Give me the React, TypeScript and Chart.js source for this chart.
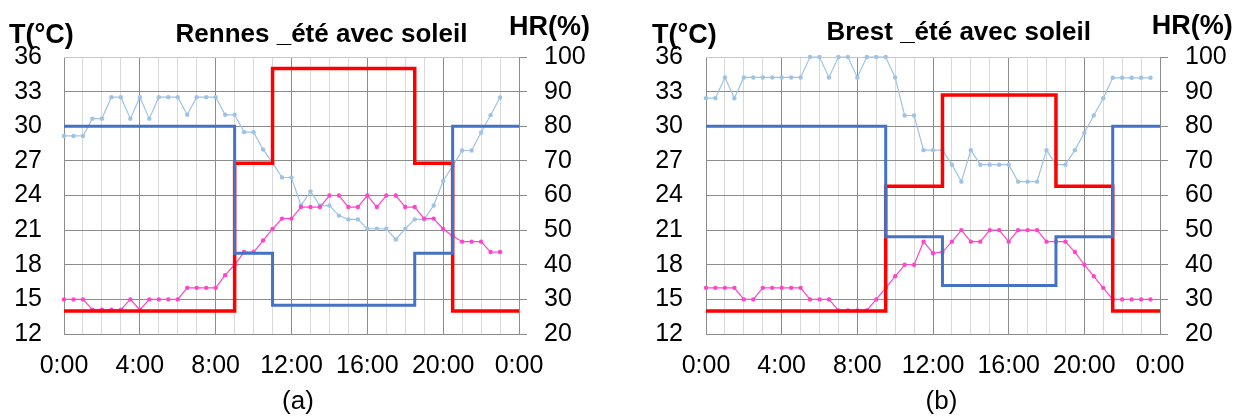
import React, { useEffect, useRef } from 'react';
import { Chart, registerables } from 'chart.js';

Chart.register(...registerables);

// ---------- DATA ----------
const xTickHours = [0, 4, 8, 12, 16, 20, 24];
const xTickLabels = ['0:00', '4:00', '8:00', '12:00', '16:00', '20:00', '0:00'];

// Rennes (a)
const timesA = [0, 0.5, 1, 1.5, 2, 2.5, 3, 3.5, 4, 4.5, 5, 5.5, 6, 6.5, 7, 7.5, 8, 8.5, 9, 9.5, 10, 10.5, 11, 11.5, 12,
  12.5, 13, 13.5, 14, 14.5, 15, 15.5, 16, 16.5, 17, 17.5, 18, 18.5, 19, 19.5, 20, 20.5, 21, 21.5, 22, 22.5, 23];
const hrMeasA = [77.2, 77.2, 77.2, 82.2, 82.2, 88.4, 88.4, 82.2, 88.4, 82.2, 88.4, 88.4, 88.4, 83.3, 88.4, 88.4, 88.4, 83.3, 83.3, 78.3, 78.3, 73.3, 69.4, 65.2, 65.2,
  57.1, 61.2, 57.1, 57.1, 54.2, 53.1, 53.1, 50.4, 50.4, 50.4, 47.3, 50.4, 53.1, 53.1, 57.1, 64.2, 68.5, 73, 73, 78.2, 83.2, 88.3];
const tMeasA = [15, 15, 15, 14.1, 14.1, 14.1, 14.1, 15, 14.1, 15, 15, 15, 15, 16, 16, 16, 16, 17.1, 18, 19.1, 19.1, 20.1, 21.1, 22, 22,
  23, 23, 23, 24, 24, 23, 23, 24, 23, 24, 24, 23, 23, 22, 22, 21.1, 20.5, 20, 20, 20, 19.1, 19.1];
const stepTimesA = [0, 9, 11, 18.5, 20.5, 24];
const tSetA = [14, 26.8, 35, 26.8, 14, 14];
const hrSetA = [80, 43.3, 28.3, 43.3, 80, 80];

// Brest (b)
const timesB = [0, 0.5, 1, 1.5, 2, 2.5, 3, 3.5, 4, 4.5, 5, 5.5, 6, 6.5, 7, 7.5, 8, 8.5, 9, 9.5, 10, 10.5, 11, 11.5, 12,
  12.5, 13, 13.5, 14, 14.5, 15, 15.5, 16, 16.5, 17, 17.5, 18, 18.5, 19, 19.5, 20, 20.5, 21, 21.5, 22, 22.5, 23, 23.5];
const hrMeasB = [88.1, 88.1, 94.1, 88.1, 94.1, 94.1, 94.1, 94.1, 94.1, 94.1, 94.1, 100, 100, 94.1, 100, 100, 94.1, 100, 100, 100, 94.1, 83.1, 83.1, 73.1, 73.1,
  73.1, 68.9, 64, 73.1, 68.9, 68.9, 68.9, 68.9, 64, 64, 64, 73.1, 68.9, 68.9, 73.1, 78.1, 83.1, 88.1, 94, 94, 94, 94, 94];
const tMeasB = [16, 16, 16, 16, 15, 15, 16, 16, 16, 16, 16, 15, 15, 15, 14.05, 14.05, 14.05, 14.05, 15, 16, 17, 18, 18, 20, 19,
  19.1, 20, 21, 20, 20, 21, 21, 20, 21, 21, 21, 20, 20, 20, 19.1, 18, 17, 16, 15, 15, 15, 15, 15];
const stepTimesB = [0, 9.5, 12.5, 18.5, 21.5, 24];
const tSetB = [14, 24.8, 32.7, 24.8, 14, 14];
const hrSetB = [80, 48.1, 34, 48.1, 80, 80];

const titleA = 'Rennes _été avec soleil';
const titleB = 'Brest _été avec soleil';

// ---------- COMPONENT ----------
const FONT = "'Liberation Sans', Arial, sans-serif";
const H = 419;

type TextItem = { text: string; x: number; y: number; font: string; align: CanvasTextAlign };

type PanelProps = {
  left: number;
  width: number;
  plotLeft: number;
  plotRight: number;
  leftPad: number;
  times: number[];
  hr: number[];
  t: number[];
  stepTimes: number[];
  tSet: number[];
  hrSet: number[];
  texts: TextItem[];
};

function Panel(p: PanelProps) {
  const ref = useRef<HTMLCanvasElement | null>(null);
  useEffect(() => {
    const canvas = ref.current!;
    const pts = (xs: number[], ys: number[]) => xs.map((x, i) => ({ x, y: ys[i] }));
    const textPlugin = {
      id: 'panelTexts',
      afterDraw(chart: any) {
        const ctx = chart.ctx as CanvasRenderingContext2D;
        ctx.save();
        ctx.fillStyle = '#000';
        ctx.textBaseline = 'alphabetic';
        for (const it of p.texts) {
          ctx.font = it.font;
          ctx.textAlign = it.align;
          ctx.fillText(it.text, it.x, it.y);
        }
        ctx.restore();
      },
    };
    const chart = new Chart(canvas, {
      type: 'line',
      data: {
        datasets: [
          {
            label: 'HR consigne',
            data: pts(p.stepTimes, p.hrSet),
            yAxisID: 'y1',
            stepped: 'before',
            borderColor: '#4472C4',
            borderWidth: 3,
            pointRadius: 0,
            borderJoinStyle: 'miter',
            order: 1,
            clip: false,
          },
          {
            label: 'T consigne',
            data: pts(p.stepTimes, p.tSet),
            yAxisID: 'y',
            stepped: 'before',
            borderColor: '#FF0000',
            borderWidth: 3.5,
            pointRadius: 0,
            borderJoinStyle: 'miter',
            order: 2,
            clip: false,
          },
          {
            label: 'T mesurée',
            data: pts(p.times, p.t),
            yAxisID: 'y',
            borderColor: '#FF44CC',
            backgroundColor: '#FF44CC',
            borderWidth: 1.2,
            pointRadius: 2.2,
            pointBorderWidth: 0,
            order: 3,
            clip: false,
          },
          {
            label: 'HR mesurée',
            data: pts(p.times, p.hr),
            yAxisID: 'y1',
            borderColor: '#9DC3E6',
            backgroundColor: '#9DC3E6',
            borderWidth: 1.2,
            pointRadius: 2.2,
            pointBorderWidth: 0,
            order: 4,
            clip: false,
          },
        ],
      },
      options: {
        animation: false,
        responsive: false,
        events: [],
        layout: { padding: { left: 0, right: 0, top: 57, bottom: 0 } },
        plugins: { legend: { display: false }, tooltip: { enabled: false }, title: { display: false } },
        scales: {
          x: {
            type: 'linear',
            min: 0,
            max: 24,
            ticks: {
              stepSize: 1,
              autoSkip: false,
              maxRotation: 0,
              minRotation: 0,
              padding: 17,
              color: '#000',
              font: { family: FONT, size: 25 },
              callback: (v: any) => {
                const i = xTickHours.indexOf(Number(v));
                return i >= 0 ? xTickLabels[i] : '';
              },
            },
            grid: {
              drawTicks: false,
              lineWidth: 1,
              color: (c: any) => (c.tick && c.tick.value % 4 === 0 ? '#8c8c8c' : '#d9d9d9'),
            },
            border: { display: false },
            afterFit: (s: any) => {
              s.height = H - 334;
            },
          },
          y: {
            position: 'left',
            min: 12,
            max: 36,
            ticks: { stepSize: 3, padding: p.leftPad, color: '#000', font: { family: FONT, size: 25 } },
            grid: {
              drawTicks: false,
              lineWidth: 1,
              color: (c: any) => (c.tick && c.tick.value === 36 ? '#c8c8c8' : '#8c8c8c'),
            },
            border: { display: false },
            afterFit: (s: any) => {
              s.width = p.plotLeft;
            },
          },
          y1: {
            position: 'right',
            min: 20,
            max: 100,
            ticks: { stepSize: 10, padding: 17, color: '#000', font: { family: FONT, size: 25 } },
            grid: { drawOnChartArea: false, drawTicks: true, tickLength: 8, color: '#8c8c8c', lineWidth: 1 },
            border: { display: true, color: '#8c8c8c', width: 1 },
            afterFit: (s: any) => {
              s.width = p.width - p.plotRight;
            },
          },
        },
      } as any,
      plugins: [textPlugin],
    });
    return () => chart.destroy();
  }, []);
  return (
    <canvas
      ref={ref}
      width={p.width}
      height={H}
      style={{ position: 'absolute', left: p.left, top: 0, width: p.width, height: H }}
    />
  );
}

export default function App() {
  const bold = (s: number) => `bold ${s}px ${FONT}`;
  const reg = (s: number) => `${s}px ${FONT}`;
  return (
    <div style={{ position: 'fixed', left: 0, top: 0, width: 1239, height: H, background: '#fff' }}>
      <Panel
        left={0}
        width={620}
        plotLeft={64}
        plotRight={519}
        leftPad={22}
        times={timesA}
        hr={hrMeasA}
        t={tMeasA}
        stepTimes={stepTimesA}
        tSet={tSetA}
        hrSet={hrSetA}
        texts={[
          { text: 'T(°C)', x: 9, y: 42.5, font: bold(27), align: 'left' },
          { text: titleA, x: 321.5, y: 41.5, font: bold(26), align: 'center' },
          { text: 'HR(%)', x: 509, y: 35, font: bold(27), align: 'left' },
          { text: '(a)', x: 298, y: 409, font: reg(26), align: 'center' },
        ]}
      />
      <Panel
        left={620}
        width={619}
        plotLeft={86}
        plotRight={540}
        leftPad={23}
        times={timesB}
        hr={hrMeasB}
        t={tMeasB}
        stepTimes={stepTimesB}
        tSet={tSetB}
        hrSet={hrSetB}
        texts={[
          { text: 'T(°C)', x: 32, y: 42.5, font: bold(27), align: 'left' },
          { text: titleB, x: 338.7, y: 39.5, font: bold(26), align: 'center' },
          { text: 'HR(%)', x: 531.7, y: 34, font: bold(27), align: 'left' },
          { text: '(b)', x: 321.5, y: 409, font: reg(26), align: 'center' },
        ]}
      />
    </div>
  );
}
